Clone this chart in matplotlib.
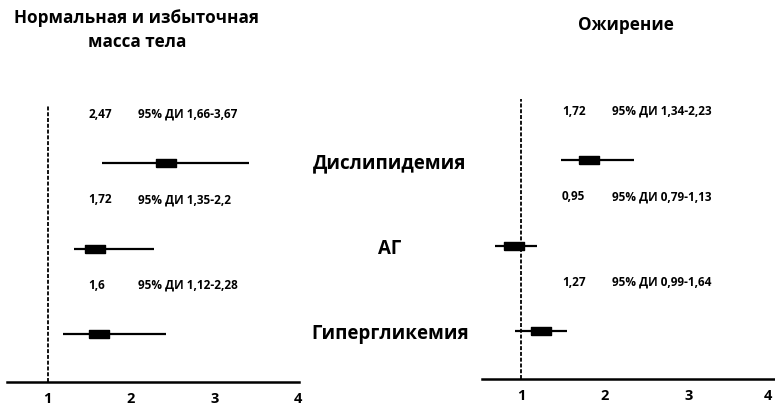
import matplotlib
matplotlib.use("Agg")
import matplotlib.pyplot as plt
import matplotlib.transforms as mtransforms

plt.rcParams['font.family'] = ['Open Sans', 'DejaVu Sans']

# ---- data ----
categories = ['Дислипидемия', 'АГ', 'Гипергликемия']
rows = [2, 1, 0]  # top to bottom

title_norm = 'Нормальная и избыточная\nмасса тела'
title_obese = 'Ожирение'

or_labels_norm = ['2,47', '1,72', '1,6']
ci_labels_norm = ['95% ДИ 1,66-3,67', '95% ДИ 1,35-2,2', '95% ДИ 1,12-2,28']
or_labels_obese = ['1,72', '0,95', '1,27']
ci_labels_obese = ['95% ДИ 1,34-2,23', '95% ДИ 0,79-1,13', '95% ДИ 0,99-1,64']

# positions of the drawn marks
norm_center = [2.42, 1.57, 1.62]
norm_low = [1.65, 1.32, 1.19]
norm_high = [3.41, 2.28, 2.42]
obese_center = [1.81, 0.92, 1.24]
obese_low = [1.48, 0.69, 0.93]
obese_high = [2.35, 1.19, 1.55]

xticks = [1, 2, 3, 4]
xtick_labels = ['1', '2', '3', '4']

# ---- figure ----
W, H = 775, 408
fig = plt.figure(figsize=(W / 100, H / 100), dpi=100)

def px_axes(x0, x1, ytop, ybot):
    return fig.add_axes([x0 / W, 1 - ybot / H, (x1 - x0) / W, (ybot - ytop) / H])

axL = px_axes(7, 299, 105, 382)
axR = px_axes(482, 775, 99, 379)

box_marker = [(-1, -0.4), (1, -0.4), (1, 0.4), (-1, 0.4), (-1, -0.4)]
k = 85.5  # px per row unit

def draw(ax, xlim, centers, lows, highs, or_labels, ci_labels, height_px):
    ax.set_xlim(*xlim)
    ylo = -0.56
    ax.set_ylim(ylo, ylo + height_px / k)
    ax.axvline(1, color='black', lw=1.3, linestyle=(0, (2.2, 1.0)), zorder=1)
    for y, c, lo, hi, ol, cl in zip(rows, centers, lows, highs, or_labels, ci_labels):
        ax.plot([lo, hi], [y, y], color='black', lw=1.6, solid_capstyle='butt', zorder=2)
        ax.plot([c], [y], marker=box_marker, markersize=14, color='black', zorder=3)
        ax.text(1.49, y + 0.57, ol, fontsize=8.5, fontweight='bold', va='center', ha='left')
        ax.text(2.08, y + 0.57, cl, fontsize=8.5, fontweight='bold', va='center', ha='left')
    for s in ['top', 'right', 'left']:
        ax.spines[s].set_visible(False)
    ax.spines['bottom'].set_linewidth(1.8)
    ax.set_yticks([])
    ax.set_xticks(xticks)
    ax.set_xticklabels(xtick_labels, fontsize=10.5, fontweight='bold')
    ax.tick_params(axis='x', length=0, pad=7)
    ax.patch.set_alpha(0)

draw(axL, (0.515, 4.01), norm_center, norm_low, norm_high,
     or_labels_norm, ci_labels_norm, 382 - 105)
draw(axR, (0.534, 4.03), obese_center, obese_low, obese_high,
     or_labels_obese, ci_labels_obese, 379 - 99)
# keep the last tick label of the right panel inside the figure
axR.get_xticklabels()[-1].set_horizontalalignment('right')

# category labels in the middle
trans = mtransforms.blended_transform_factory(fig.transFigure, axL.transData)
for y, cat in zip(rows, categories):
    axL.text(390 / W, y, cat, transform=trans, fontsize=13.5, fontweight='bold',
             ha='center', va='center', clip_on=False)

# titles
fig.text(137 / W, 1 - 30 / H, title_norm, fontsize=12.3, fontweight='bold',
         ha='center', va='center', linespacing=1.45)
fig.text(626 / W, 1 - 25 / H, title_obese, fontsize=12.3, fontweight='bold',
         ha='center', va='center')

fig.savefig('out.png', dpi=100)
